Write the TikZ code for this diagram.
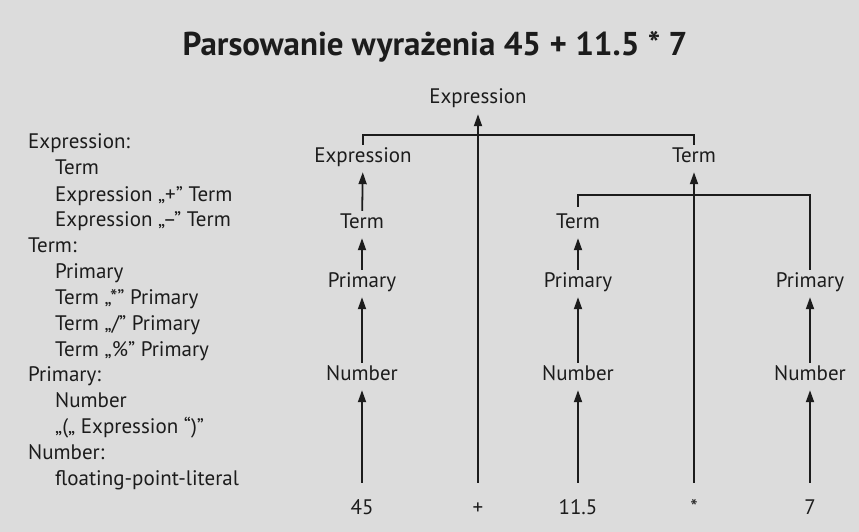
\documentclass[tikz,border=0pt]{standalone}
\usepackage{fontspec}
\setmainfont{PT Sans}
\usetikzlibrary{arrows.meta}
\definecolor{bg}{HTML}{DCDCDC}
\definecolor{ink}{HTML}{1C1C1C}
\begin{document}
\begin{tikzpicture}[x=1pt,y=-1pt,
  lbl/.style={inner sep=0pt, text height=15pt, text depth=5pt, font=\fontsize{21}{24}\selectfont, text=ink},
  gram/.style={lbl, anchor=west},
  uparrow/.style={draw=ink, line width=1.8pt, -{Triangle[length=12pt,width=8pt]}, shorten <=2pt, shorten >=5pt},
  leafup/.style={uparrow, shorten <=16pt},
  bracket/.style={draw=ink, line width=1.8pt}
]
\fill[bg] (0,0) rectangle (859,532);
\useasboundingbox (0,0) rectangle (859,532);

% title
\node[text=ink, font=\fontsize{33}{38}\selectfont\bfseries] (title) at (435,47) {Parsowanie wyrażenia 45 + 11.5 * 7};

% grammar
\node[gram] (g1)  at (28,144)  {Expression:};
\node[gram] (g2)  at (55,170)  {Term};
\node[gram] (g3)  at (55,196)  {Expression „+” Term};
\node[gram] (g4)  at (55,221)  {Expression „–” Term};
\node[gram] (g5)  at (28,247)  {Term:};
\node[gram] (g6)  at (55,273)  {Primary};
\node[gram] (g7)  at (55,299)  {Term „*” Primary};
\node[gram] (g8)  at (55,325)  {Term „/” Primary};
\node[gram] (g9)  at (55,351)  {Term „\%” Primary};
\node[gram] (g10) at (28,376)  {Primary:};
\node[gram] (g11) at (55,402)  {Number};
\node[gram] (g12) at (55,428)  {„(„ Expression “)”};
\node[gram] (g13) at (28,454)  {Number:};
\node[gram] (g14) at (55,480)  {floating-point-literal};

% tree
\node[lbl] (topE) at (478,99)  {Expression};
\node[lbl] (E1)   at (363,157) {Expression};
\node[lbl] (T1)   at (694,157) {Term};
\node[lbl] (T2)   at (362,223) {Term};
\node[lbl] (T3)   at (578,223) {Term};
\node[lbl] (P1)   at (362,282) {Primary};
\node[lbl] (P2)   at (578,282) {Primary};
\node[lbl] (P3)   at (810,282) {Primary};
\node[lbl] (N1)   at (362,375) {Number};
\node[lbl] (N2)   at (578,375) {Number};
\node[lbl] (N3)   at (810,375) {Number};
\node[lbl] (L1)   at (362,509) {45};
\node[lbl] (L2)   at (478,509) {+};
\node[lbl] (L3)   at (578,509) {11.5};
\node[lbl] (L4)   at (694,509) {*};
\node[lbl] (L5)   at (810,509) {7};

\coordinate (br1) at (0,135);
\coordinate (br2) at (0,195);

% arrows
\draw[leafup] (L1) -- (N1);
\draw[leafup] (L3) -- (N2);
\draw[leafup] (L5) -- (N3);
\draw[leafup] (L2) -- (topE);
\draw[leafup] (L4) -- (T1);
\draw[uparrow] (N1) -- (P1);
\draw[uparrow] (N2) -- (P2);
\draw[uparrow] (N3) -- (P3);
\draw[uparrow] (P1) -- (T2);
\draw[uparrow] (P2) -- (T3);
\draw[uparrow] (T2) -- (E1);

% brackets
\draw[bracket] ([yshift=2pt]E1.north) -- (E1.north |- br1) -| ([yshift=2pt]T1.north);
\draw[bracket] ([yshift=6pt]T3.north) -- (T3.north |- br2) -| ([yshift=2pt]P3.north);
\end{tikzpicture}
\end{document}
